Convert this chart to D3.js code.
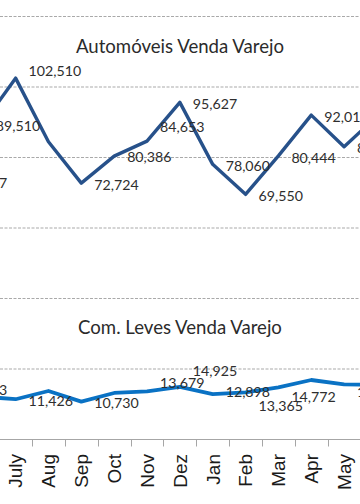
<!DOCTYPE html>
<html>
<head>
<meta charset="utf-8">
<script src="https://cdn.jsdelivr.net/npm/d3@7"></script>
<style>
  html, body { margin: 0; padding: 0; background: #fff; overflow: hidden; }
  svg { display: block; }
</style>
</head>
<body>
<svg id="chart" width="360" height="504"></svg>
<script>
// ---- data ----
const categories = ["May", "June", "July", "Aug", "Sep", "Oct", "Nov", "Dez", "Jan", "Feb", "Mar", "Apr", "May", "June"];
const autoValues = [73187, 89510, 102510, 84480, 72724, 80386, 84653, 95627, 78060, 69550, 80444, 92015, 83064, 91690];
const comValues  = [14373, 12170, 11426, 13760, 10730, 13200, 13679, 14925, 12898, 13365, 14772, 16880, 15660, 15460];
const yTicks = [20000, 40000, 60000, 80000, 100000, 120000];
const titles = ["Automóveis Venda Varejo", "Com. Leves Venda Varejo"];
// which data labels are shown (index into categories)
const autoLabelShown = [true, true, true, false, true, true, true, true, true, true, true, true, true, false];
const comLabelShown  = [true, false, true, false, true, false, true, true, true, true, true, false, true, false];
// manual label nudges (px, vertical) as placed in the original
const autoLabelNudge = [0, 0, -8.5, 0, 0, -1, -15.5, 0, 0, 0, 0, 0, 0, 0];
const comLabelNudge  = [0, 0, 0, 0, 0, 0, -10, -17.5, -4, 12, 8, 0, 6, 0];

// ---- layout ----
const W = 360, H = 504;
const step = 32.85;
const x0 = 15.6 - 2.5 * step;   // chart is cropped: July centred near left edge
const n = categories.length;
const x = d3.scaleBand().domain(d3.range(n)).range([x0, x0 + n * step]).paddingInner(0).paddingOuter(0);
const xc = i => x(i) + x.bandwidth() / 2;
const y = d3.scaleLinear().domain([0, 120000]).range([439.5, 16.5]);
const axisY = y(0);

const svg = d3.select("#chart");

// gridlines
svg.append("g").selectAll("line").data(yTicks).join("line")
  .attr("x1", 0).attr("x2", W)
  .attr("y1", d => y(d)).attr("y2", d => y(d))
  .attr("stroke", "#a9a9a9").attr("stroke-width", 1)
  .attr("stroke-dasharray", "3,1.5");

// x axis
svg.append("line").attr("x1", 0).attr("x2", W).attr("y1", axisY).attr("y2", axisY)
  .attr("stroke", "#a6a6a6").attr("stroke-width", 1);
svg.append("g").selectAll("line").data(d3.range(1, n)).join("line")
  .attr("x1", d => Math.round(x(d)) + 0.5).attr("x2", d => Math.round(x(d)) + 0.5)
  .attr("y1", axisY).attr("y2", axisY + 7)
  .attr("stroke", "#a6a6a6").attr("stroke-width", 1);
svg.append("g").selectAll("text").data(categories).join("text")
  .attr("transform", (d, i) => `translate(${xc(i)},${axisY + 14.5}) rotate(-90)`)
  .attr("text-anchor", "end").attr("dy", "0.36em")
  .attr("font-family", "Liberation Sans, Arial, sans-serif")
  .attr("font-size", 19).attr("fill", "#1a1a1a")
  .text(d => d);

// titles
svg.append("text").attr("x", 180).attr("y", 52.7).attr("text-anchor", "middle")
  .attr("font-family", "Lato, sans-serif").attr("font-size", 18.6).attr("fill", "#2b2b2b")
  .text(titles[0]);
svg.append("text").attr("x", 180).attr("y", 334).attr("text-anchor", "middle")
  .attr("font-family", "Lato, sans-serif").attr("font-size", 18.6).attr("fill", "#2b2b2b")
  .text(titles[1]);

// lines
const line = d3.line().x((d, i) => xc(i)).y(d => y(d));
svg.append("path").datum(autoValues).attr("d", line)
  .attr("fill", "none").attr("stroke", "#27518a").attr("stroke-width", 3.4)
  .attr("stroke-linejoin", "round").attr("stroke-linecap", "round");
svg.append("path").datum(comValues).attr("d", line)
  .attr("fill", "none").attr("stroke", "#0a72c4").attr("stroke-width", 3.8)
  .attr("stroke-linejoin", "round").attr("stroke-linecap", "round");

// data labels
const fmt = d3.format(",");
function labels(values, shown, nudge) {
  const idx = d3.range(values.length).filter(i => shown[i]);
  svg.append("g").selectAll("text").data(idx).join("text")
    .attr("x", i => xc(i) + 13)
    .attr("y", i => y(values[i]) + 1.5 + nudge[i])
    .attr("dy", "0.36em")
    .attr("font-family", "Lato, sans-serif").attr("font-size", 14.2).attr("fill", "#2e2e2e")
    .text(i => fmt(values[i]));
}
labels(autoValues, autoLabelShown, autoLabelNudge);
labels(comValues, comLabelShown, comLabelNudge);
</script>
</body>
</html>
